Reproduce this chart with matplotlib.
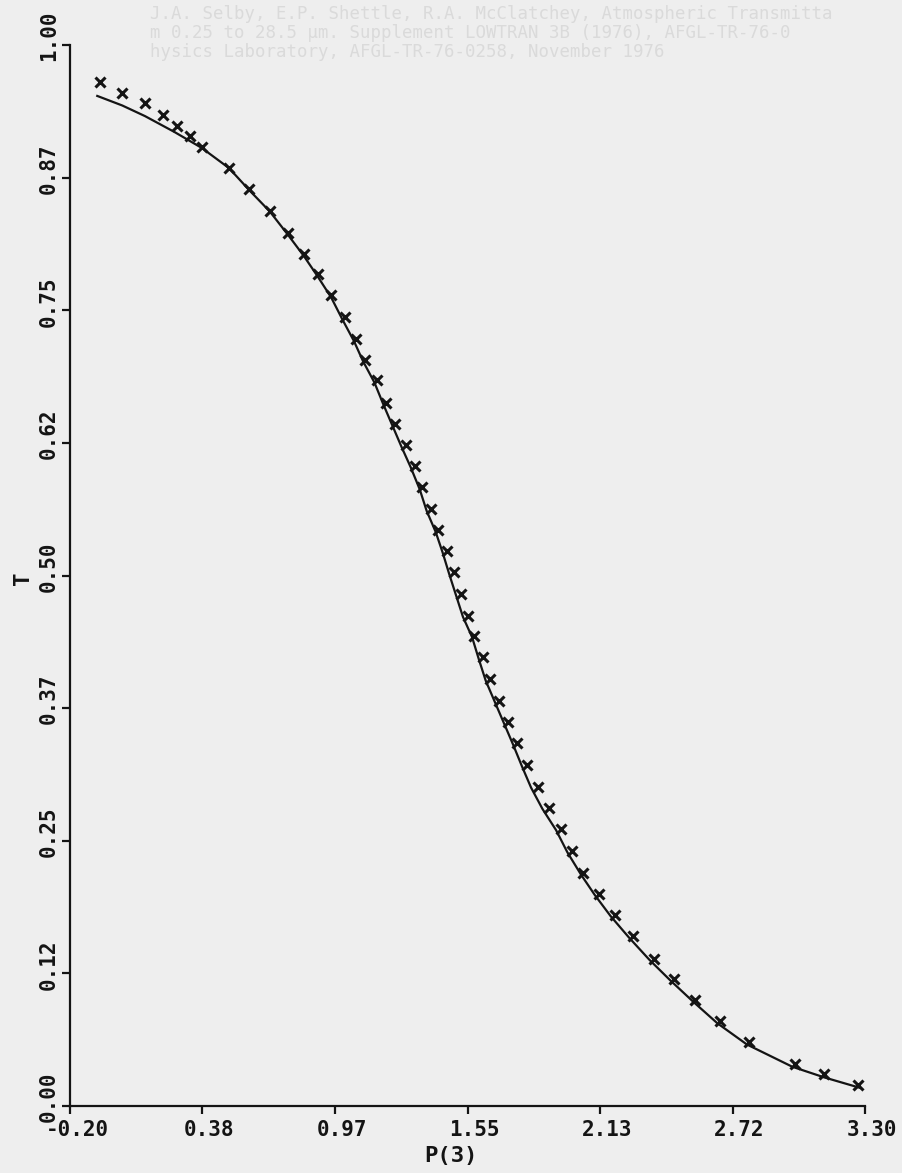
import numpy as np
import matplotlib
matplotlib.use("Agg")
import matplotlib.pyplot as plt
from matplotlib.transforms import ScaledTranslation

# measured points (x marks)
marker_x = [-0.07, 0.03, 0.13, 0.21, 0.27, 0.33, 0.38, 0.50, 0.59, 0.68,
            0.76, 0.83, 0.89, 0.95, 1.01, 1.06, 1.10, 1.15, 1.19, 1.23,
            1.28, 1.32, 1.35, 1.39, 1.42, 1.46, 1.49, 1.52, 1.55, 1.58,
            1.62, 1.65, 1.69, 1.73, 1.77, 1.81, 1.86, 1.91, 1.96, 2.01,
            2.06, 2.13, 2.20, 2.28, 2.37, 2.46, 2.55, 2.66, 2.79, 2.99,
            3.12, 3.27]
marker_t = [0.965, 0.955, 0.945, 0.934, 0.924, 0.914, 0.904, 0.884, 0.864, 0.844,
            0.823, 0.803, 0.784, 0.764, 0.744, 0.723, 0.703, 0.684, 0.663, 0.643,
            0.623, 0.603, 0.583, 0.563, 0.543, 0.523, 0.503, 0.483, 0.462, 0.443,
            0.423, 0.402, 0.382, 0.362, 0.342, 0.321, 0.301, 0.281, 0.261, 0.240,
            0.220, 0.200, 0.180, 0.160, 0.139, 0.120, 0.100, 0.080, 0.060, 0.040,
            0.030, 0.020]

# fitted curve (solid line)
curve_x = [-0.08, 0.03, 0.13, 0.26, 0.38, 0.50, 0.59, 0.68, 0.76, 0.83,
           0.89, 0.95, 1.00, 1.05, 1.09, 1.14, 1.18, 1.22, 1.26, 1.30,
           1.34, 1.37, 1.41, 1.44, 1.47, 1.50, 1.53, 1.57, 1.60, 1.63,
           1.67, 1.71, 1.75, 1.79, 1.83, 1.88, 1.94, 1.99, 2.05, 2.11,
           2.18, 2.26, 2.35, 2.44, 2.54, 2.65, 2.78, 2.98, 3.12, 3.28]
curve_t = [0.952, 0.943, 0.933, 0.918, 0.903, 0.884, 0.863, 0.843, 0.821, 0.801,
           0.782, 0.762, 0.741, 0.721, 0.702, 0.682, 0.661, 0.641, 0.621, 0.602,
           0.581, 0.561, 0.541, 0.522, 0.501, 0.481, 0.461, 0.442, 0.421, 0.401,
           0.381, 0.361, 0.341, 0.320, 0.300, 0.280, 0.260, 0.239, 0.218, 0.199,
           0.179, 0.159, 0.138, 0.119, 0.099, 0.078, 0.058, 0.037, 0.027, 0.017]

x_ticks = [-0.20, 0.3833, 0.9667, 1.55, 2.1333, 2.7167, 3.30]
x_labels = ["-0.20", "0.38", "0.97", "1.55", "2.13", "2.72", "3.30"]
y_ticks = [0.0, 0.125, 0.25, 0.375, 0.5, 0.625, 0.75, 0.875, 1.0]
y_labels = ["0.00", "0.12", "0.25", "0.37", "0.50", "0.62", "0.75", "0.87", "1.00"]

# faint show-through text from the back of the page
ghost_lines = ["J.A. Selby, E.P. Shettle, R.A. McClatchey, Atmospheric Transmitta",
               "m 0.25 to 28.5 \u00b5m. Supplement LOWTRAN 3B (1976), AFGL-TR-76-0",
               "hysics Laboratory, AFGL-TR-76-0258, November 1976"]

ink = "#141414"
paper = "#eeeeee"
mono = ["DejaVu Sans Mono"]

fig = plt.figure(figsize=(9.03, 11.73), dpi=100, facecolor=paper)
ax = fig.add_axes([70 / 903, 67 / 1173, 795 / 903, 1061 / 1173])
ax.set_facecolor(paper)

for i, s in enumerate(ghost_lines):
    fig.text(150 / 903, 1 - (14 + 19 * i) / 1173, s, family=mono, fontsize=12.5,
             color="#dadada", va="center", ha="left")

ax.plot(curve_x, curve_t, color=ink, lw=1.6, zorder=2)
ax.plot(marker_x, marker_t, ls="none", marker="x", ms=6.5, mew=2.2,
        color=ink, zorder=3)

ax.set_xlim(-0.2, 3.3)
ax.set_ylim(0, 1)
ax.set_xticks(x_ticks)
ax.set_xticklabels(x_labels)
ax.set_yticks(y_ticks)
ax.set_yticklabels(y_labels, rotation=90, va="center")

for sp in ["top", "right"]:
    ax.spines[sp].set_visible(False)
for sp in ["left", "bottom"]:
    ax.spines[sp].set_linewidth(1.6)
    ax.spines[sp].set_color(ink)

ax.tick_params(axis="both", direction="out", length=6, width=1.6, color=ink,
               labelcolor=ink, labelsize=15)
ax.tick_params(axis="x", pad=4)
ax.tick_params(axis="y", pad=2)

for lab in ax.get_xticklabels():
    lab.set_family(mono)
    lab.set_fontweight("bold")
    lab.set_transform(lab.get_transform() + ScaledTranslation(0.07, 0, fig.dpi_scale_trans))
for lab in ax.get_yticklabels():
    lab.set_family(mono)
    lab.set_fontweight("bold")
    lab.set_transform(lab.get_transform() + ScaledTranslation(0, 0.09, fig.dpi_scale_trans))

fig.text(451 / 903, 1 - 1156 / 1173, "P(3)", family=mono, fontweight="bold",
         fontsize=16, color=ink, ha="center", va="center")
fig.text(23 / 903, 1 - 578 / 1173, "T", family=mono, fontweight="bold",
         fontsize=16, color=ink, ha="center", va="center", rotation=90)

fig.savefig("out.png", dpi=100, facecolor=paper)
